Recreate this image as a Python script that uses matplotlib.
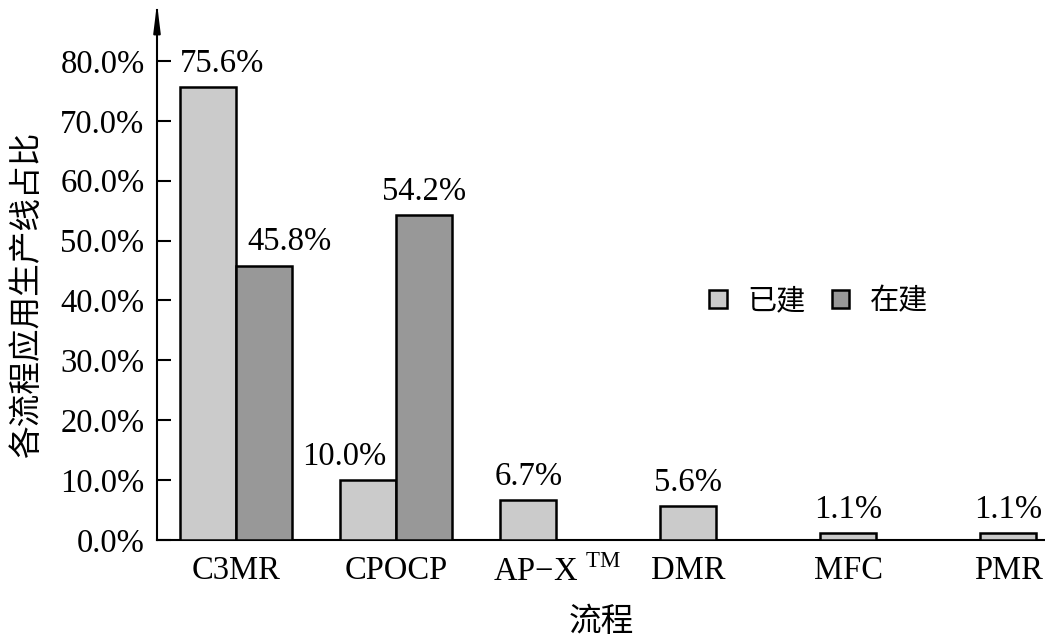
import numpy as np
import matplotlib
matplotlib.use("Agg")
import matplotlib.pyplot as plt
from matplotlib.patches import Patch

plt.rcParams['font.family'] = ['Liberation Serif', 'Noto Sans CJK SC', 'DejaVu Sans']
plt.rcParams['mathtext.fontset'] = 'custom'
plt.rcParams['mathtext.rm'] = 'Liberation Serif'

# dati
processi = ['C3MR', 'CPOCP', 'AP\u2212X $^{\\rm TM}$', 'DMR', 'MFC', 'PMR']
gia_costruiti = [75.6, 10.0, 6.7, 5.6, 1.1, 1.1]      # 已建
in_costruzione = [45.8, 54.2, 0, 0, 0, 0]            # 在建
y_ticks = [0, 10, 20, 30, 40, 50, 60, 70, 80]

# spostamenti delle etichette (punti) per evitare sovrapposizioni
off_gia = [10, -17, 0, 0, 0, 0]
off_in = [18, 0, 0, 0, 0, 0]

col_gia = '#cbcbcb'
col_in = '#989898'
w = 0.35
fs = 23.5

fig = plt.figure(figsize=(10.45, 6.39), dpi=100)
ax = fig.add_axes([157 / 1045, 99 / 639, 888 / 1045, 530 / 639])

x = np.arange(len(processi))
ax.bar(x, gia_costruiti, width=w, color=col_gia, edgecolor='black', linewidth=1.8, zorder=3)
mask = np.array(in_costruzione) > 0
ax.bar(x[mask] + w, np.array(in_costruzione)[mask], width=w, color=col_in,
       edgecolor='black', linewidth=1.8, zorder=3)

for i, v in enumerate(gia_costruiti):
    ax.annotate(f'{v:.1f}%', (x[i], v), xytext=(off_gia[i], 6), textcoords='offset points',
                ha='center', va='bottom', fontsize=fs)
for i, v in enumerate(in_costruzione):
    if v > 0:
        ax.annotate(f'{v:.1f}%', (x[i] + w, v), xytext=(off_in[i], 6), textcoords='offset points',
                    ha='center', va='bottom', fontsize=fs)

# posizioni delle etichette: centro del gruppo se ci sono due barre
tick_pos = [x[i] + w / 2 if mask[i] else x[i] for i in range(len(processi))]
tick_pos[2] += 0.18
ax.set_xticks(tick_pos)
ax.set_xticklabels(processi, fontsize=fs)
ax.tick_params(axis='x', length=0, pad=11)

ax.set_yticks(y_ticks)
ax.set_yticklabels([f'{t:.1f}%' for t in y_ticks], fontsize=fs)
ax.tick_params(axis='y', direction='in', length=10, width=1.5, pad=9)

ax.set_xlim(-0.32, 5.23)
ax.set_ylim(0, 88.5)

for s in ['top', 'right']:
    ax.spines[s].set_visible(False)
ax.spines['left'].set_linewidth(1.5)
ax.spines['bottom'].set_linewidth(1.5)

# freccia in cima all'asse y
ax.annotate('', xy=(0, 1.0 + 9 / 530), xytext=(0, 0.95), xycoords='axes fraction',
            arrowprops=dict(arrowstyle='-|>,head_length=1.6,head_width=0.2',
                            color='black', lw=1.5), annotation_clip=False)

ax.set_ylabel('各流程应用生产线占比', fontsize=fs)
ax.yaxis.set_label_coords(-0.128, 0.462)
ax.set_xlabel('流程', fontsize=fs, labelpad=14)

handles = [Patch(facecolor=col_gia, edgecolor='black', linewidth=1.8, label='已建'),
           Patch(facecolor=col_in, edgecolor='black', linewidth=1.8, label='在建')]
ax.legend(handles=handles, loc='center', bbox_to_anchor=(0.745, 0.45), ncol=2, frameon=False,
          fontsize=21, handlelength=0.6, handleheight=0.6, handletextpad=0.7, columnspacing=0.9)

fig.savefig('out.png', dpi=100)
